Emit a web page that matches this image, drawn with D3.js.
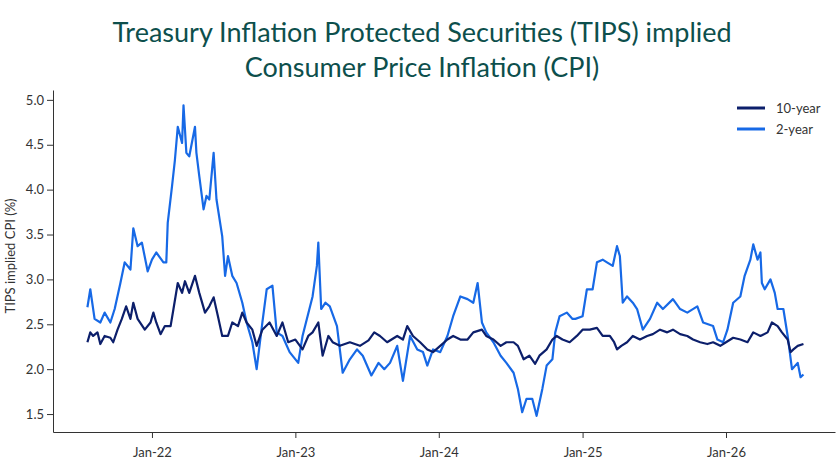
<!DOCTYPE html>
<html>
<head>
<meta charset="utf-8">
<script src="https://cdn.jsdelivr.net/npm/d3@7"></script>
<style>
  body { margin: 0; background: #fff; }
  svg text { font-family: Lato, "Open Sans", sans-serif; }
  .axis path, .axis line { stroke: #333; }
  .axis text { font-size: 13px; fill: #333; }
</style>
</head>
<body>
<div id="chart"></div>
<script>
// data (decimal years, % values)
const tenYrDates = [2021.55,2021.57,2021.59,2021.62,2021.64,2021.67,2021.71,2021.73,2021.76,2021.79,2021.82,2021.85,2021.87,2021.90,2021.95,2021.99,2022.01,2022.03,2022.06,2022.09,2022.13,2022.15,2022.18,2022.21,2022.23,2022.26,2022.30,2022.33,2022.37,2022.40,2022.43,2022.46,2022.49,2022.53,2022.56,2022.60,2022.63,2022.66,2022.70,2022.73,2022.77,2022.82,2022.87,2022.91,2022.95,2023.00,2023.05,2023.09,2023.12,2023.16,2023.19,2023.23,2023.26,2023.31,2023.38,2023.45,2023.51,2023.55,2023.59,2023.64,2023.71,2023.75,2023.78,2023.82,2023.87,2023.92,2023.96,2024.01,2024.06,2024.10,2024.15,2024.20,2024.24,2024.30,2024.33,2024.38,2024.43,2024.47,2024.52,2024.55,2024.59,2024.63,2024.67,2024.70,2024.75,2024.79,2024.82,2024.86,2024.91,2024.96,2025.00,2025.05,2025.10,2025.14,2025.19,2025.22,2025.24,2025.27,2025.31,2025.35,2025.40,2025.45,2025.49,2025.54,2025.59,2025.63,2025.68,2025.73,2025.77,2025.82,2025.87,2025.91,2025.96,2026.00,2026.05,2026.10,2026.15,2026.19,2026.24,2026.29,2026.32,2026.36,2026.39,2026.43,2026.45,2026.47,2026.50,2026.54];
const tenYrVals = [2.30,2.41,2.37,2.41,2.28,2.37,2.35,2.30,2.44,2.56,2.70,2.56,2.74,2.56,2.44,2.52,2.63,2.52,2.39,2.48,2.48,2.67,2.96,2.85,2.98,2.85,3.04,2.85,2.63,2.70,2.80,2.59,2.37,2.37,2.52,2.48,2.63,2.52,2.44,2.26,2.44,2.52,2.37,2.52,2.30,2.33,2.22,2.37,2.41,2.52,2.15,2.37,2.30,2.26,2.30,2.26,2.32,2.41,2.37,2.30,2.37,2.33,2.48,2.37,2.30,2.22,2.19,2.26,2.33,2.37,2.33,2.33,2.41,2.44,2.37,2.33,2.26,2.30,2.30,2.26,2.11,2.15,2.06,2.15,2.22,2.33,2.37,2.33,2.30,2.37,2.44,2.44,2.46,2.37,2.37,2.30,2.22,2.26,2.30,2.37,2.33,2.37,2.39,2.44,2.41,2.44,2.39,2.37,2.33,2.30,2.28,2.30,2.26,2.30,2.35,2.33,2.30,2.41,2.37,2.41,2.52,2.48,2.41,2.33,2.19,2.22,2.26,2.28];

const twoYrDates = [2021.55,2021.57,2021.60,2021.64,2021.67,2021.71,2021.74,2021.78,2021.81,2021.85,2021.87,2021.90,2021.93,2021.97,2022.00,2022.03,2022.08,2022.10,2022.11,2022.14,2022.16,2022.18,2022.21,2022.22,2022.24,2022.26,2022.30,2022.31,2022.33,2022.36,2022.38,2022.40,2022.43,2022.45,2022.49,2022.51,2022.53,2022.56,2022.59,2022.63,2022.66,2022.70,2022.73,2022.77,2022.80,2022.84,2022.87,2022.91,2022.96,2023.02,2023.05,2023.12,2023.15,2023.16,2023.18,2023.21,2023.24,2023.29,2023.33,2023.38,2023.43,2023.47,2023.53,2023.58,2023.62,2023.66,2023.71,2023.75,2023.80,2023.85,2023.89,2023.92,2023.96,2024.01,2024.06,2024.10,2024.15,2024.20,2024.24,2024.27,2024.30,2024.33,2024.38,2024.43,2024.47,2024.52,2024.55,2024.58,2024.61,2024.65,2024.68,2024.72,2024.75,2024.79,2024.81,2024.84,2024.89,2024.93,2024.95,2025.00,2025.03,2025.07,2025.10,2025.14,2025.17,2025.21,2025.24,2025.26,2025.28,2025.31,2025.35,2025.38,2025.42,2025.47,2025.52,2025.56,2025.63,2025.68,2025.73,2025.80,2025.84,2025.91,2025.94,2025.98,2026.01,2026.05,2026.10,2026.13,2026.17,2026.19,2026.22,2026.24,2026.25,2026.27,2026.31,2026.34,2026.36,2026.40,2026.43,2026.46,2026.50,2026.52,2026.54];
const twoYrVals = [2.69,2.89,2.56,2.52,2.63,2.52,2.67,2.96,3.19,3.11,3.57,3.37,3.41,3.09,3.22,3.30,3.19,3.19,3.63,4.04,4.33,4.70,4.52,4.94,4.41,4.37,4.70,4.41,4.15,3.78,3.93,3.89,4.41,3.89,3.48,3.04,3.26,3.04,2.96,2.74,2.52,2.30,2.00,2.52,2.89,2.93,2.41,2.37,2.19,2.07,2.37,2.81,3.15,3.41,2.67,2.74,2.70,2.48,1.96,2.11,2.22,2.15,1.93,2.07,2.00,2.07,2.26,1.87,2.37,2.22,2.19,2.04,2.22,2.19,2.37,2.59,2.81,2.78,2.74,2.96,2.52,2.41,2.30,2.15,2.07,1.96,1.78,1.52,1.67,1.67,1.48,1.78,2.04,2.11,2.41,2.59,2.63,2.56,2.56,2.59,2.89,2.89,3.19,3.22,3.19,3.15,3.37,3.26,2.74,2.81,2.74,2.67,2.44,2.56,2.74,2.67,2.78,2.67,2.63,2.70,2.52,2.48,2.33,2.30,2.44,2.74,2.81,3.04,3.22,3.39,3.22,3.30,2.96,2.89,3.00,2.85,2.67,2.67,2.37,2.00,2.07,1.91,1.94];

const yTicks = [1.5, 2.0, 2.5, 3.0, 3.5, 4.0, 4.5, 5.0];
const xTickYears = [2022, 2023, 2024, 2025, 2026];
const seriesNames = ['10-year', '2-year'];
const seriesColors = ['#0c1f6b', '#1769e6'];

const toDate = t => {
    const y = Math.floor(t);
    const a = new Date(y, 0, 1), b = new Date(y + 1, 0, 1);
    return new Date(+a + (t - y) * (b - a));
};

const margin = { top: 90, right: 5, bottom: 40, left: 53 };
const width = 840, height = 472;
const graphWidth = width - margin.left - margin.right;
const graphHeight = height - margin.top - margin.bottom;

const svg = d3.select('#chart').append('svg')
    .attr('width', width)
    .attr('height', height);

// title
svg.append('text')
    .attr('x', 422).attr('text-anchor', 'middle')
    .attr('fill', '#0d4f4c').style('font-size', '27px')
    .selectAll('tspan')
    .data(['Treasury Inflation Protected Securities (TIPS) implied', 'Consumer Price Inflation (CPI)'])
    .enter().append('tspan')
    .attr('x', 422)
    .attr('y', (d, i) => 42 + i * 35)
    .text(d => d);

const chart = svg.append('g')
    .attr('transform', `translate(${margin.left}, ${margin.top})`);

const x = d3.scaleTime()
    .domain([toDate(2021.31), toDate(2026.76)])
    .range([0, graphWidth]);

const y = d3.scaleLinear()
    .domain([1.3, 5.11])
    .range([graphHeight, 0]);

const xAxis = d3.axisBottom(x)
    .tickValues(xTickYears.map(t => new Date(t, 0, 1)))
    .tickFormat(d3.timeFormat('%b-%y'))
    .tickSizeOuter(0);

const yAxis = d3.axisLeft(y)
    .tickValues(yTicks)
    .tickFormat(d3.format('.1f'))
    .tickSizeOuter(0);

chart.append('g').attr('class', 'axis')
    .attr('transform', `translate(0, ${graphHeight})`)
    .call(xAxis)
    .selectAll('text').attr('dy', '1.2em');

chart.append('g').attr('class', 'axis')
    .call(yAxis);

svg.append('text')
    .attr('transform', `translate(15, ${margin.top + graphHeight / 2 - 5}) rotate(-90)`)
    .attr('text-anchor', 'middle')
    .attr('fill', '#333').style('font-size', '13px')
    .text('TIPS implied CPI (%)');

// lines
const line = d3.line()
    .x(d => x(toDate(d[0])))
    .y(d => y(d[1]));

const series = [
    d3.zip(tenYrDates, tenYrVals),
    d3.zip(twoYrDates, twoYrVals)
];

// 2-year drawn first so 10-year sits on top
[1, 0].forEach(i => {
    chart.append('path')
        .datum(series[i])
        .attr('fill', 'none')
        .attr('stroke', seriesColors[i])
        .attr('stroke-width', 2.2)
        .attr('stroke-linejoin', 'round')
        .attr('d', line);
});

// legend
const legend = svg.append('g')
    .attr('transform', 'translate(737, 108)');

seriesNames.forEach((name, i) => {
    legend.append('line')
        .attr('x1', 0).attr('x2', 28)
        .attr('y1', i * 21).attr('y2', i * 21)
        .attr('stroke', seriesColors[i]).attr('stroke-width', 3);
    legend.append('text')
        .attr('x', 39).attr('y', i * 21 + 5)
        .attr('fill', '#333').style('font-size', '13px')
        .text(name);
});
</script>
</body>
</html>
